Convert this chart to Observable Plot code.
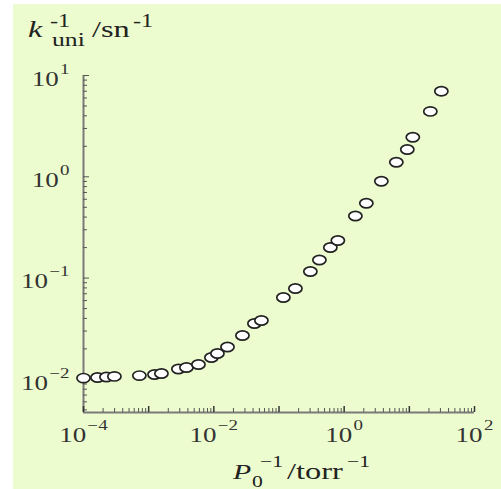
<!DOCTYPE html>
<html>
<head>
<meta charset="utf-8">
<script src="https://cdn.jsdelivr.net/npm/d3@7"></script>
<script src="https://cdn.jsdelivr.net/npm/@observablehq/plot@0.6"></script>
<style>
  html, body { margin: 0; padding: 0; background: #ffffff; }
  #wrap { position: relative; width: 501px; height: 489px; overflow: hidden; }
  #panel { position: absolute; left: 13px; top: 4px; right: 0; bottom: 0; background: #ecfcce; }
  #wrap svg { position: absolute; left: 0; top: 0; }
</style>
</head>
<body>
<div id="wrap"><div id="panel"></div></div>
<script>
// Inverse pressure P0^-1 (torr^-1) and inverse unimolecular rate constant k_uni^-1 (s)
const invPressure = [
  1.0e-4, 1.64e-4, 2.25e-4, 2.98e-4, 7.2e-4, 1.23e-3, 1.57e-3, 2.86e-3, 3.80e-3, 5.81e-3,
  9.18e-3, 1.135e-2, 1.62e-2, 2.75e-2, 4.20e-2, 5.37e-2, 0.1167, 0.1786, 0.303, 0.417,
  0.614, 0.80, 1.486, 2.19, 3.72, 6.32, 9.31, 11.3, 21.0, 31.0
];
const invRate = [
  0.0103, 0.01045, 0.01057, 0.0107, 0.0109, 0.01116, 0.01143, 0.01268, 0.0131, 0.01403,
  0.01644, 0.01803, 0.0209, 0.0271, 0.0356, 0.0381, 0.0643, 0.0789, 0.116, 0.151,
  0.2004, 0.235, 0.410, 0.548, 0.905, 1.393, 1.86, 2.46, 4.42, 7.0
];

// Axis extents and tick values
const xDomain = [1e-4, 1e2];
const yDomain = [Math.pow(10, -2.327), 10];
const xMajor = [1e-4, 1e-3, 1e-2, 1e-1, 1, 1e1, 1e2];
const xLabeled = [1e-4, 1e-2, 1, 1e2];
const yMajor = [1e-2, 1e-1, 1, 10];
const xMinor = [];
for (const d of [1e-4, 1e-3, 1e-2, 1e-1, 1, 10]) for (let m = 2; m <= 9; m++) xMinor.push(d * m);
const yMinor = [];
for (const d of [1e-3, 1e-2, 1e-1, 1]) for (let m = 2; m <= 9; m++) {
  const v = d * m;
  if (v >= yDomain[0] && v <= yDomain[1]) yMinor.push(v);
}

const data = invPressure.map((x, i) => ({x, y: invRate[i]}));

// Open elliptical marker
const ellipse = {
  draw(context) {
    const rx = 6.6, ry = 4.6, k = 0.5523, kx = rx * k, ky = ry * k;
    context.moveTo(rx, 0);
    context.bezierCurveTo(rx, ky, kx, ry, 0, ry);
    context.bezierCurveTo(-kx, ry, -rx, ky, -rx, 0);
    context.bezierCurveTo(-rx, -ky, -kx, -ry, 0, -ry);
    context.bezierCurveTo(kx, -ry, rx, -ky, rx, 0);
    context.closePath();
  }
};

const powerFormat = v => {
  const e = Math.round(Math.log10(v));
  return "10|" + (e < 0 ? "\u2212" + (-e) : String(e));
};
const blank = () => "";

const serif = "'Liberation Serif', 'Times New Roman', serif";
const axisColor = "#7a7a7a";
const tickColor = "#555555";

const plot = Plot.plot({
  width: 501,
  height: 489,
  marginLeft: 83,
  marginRight: 27,
  marginTop: 75,
  marginBottom: 77,
  style: {background: "transparent", fontFamily: serif, fontSize: "20px", color: "#333"},
  x: {type: "log", domain: xDomain},
  y: {type: "log", domain: yDomain},
  marks: [
    Plot.ruleX([xDomain[0]], {stroke: axisColor, strokeWidth: 2}),
    Plot.ruleY([yDomain[0]], {stroke: axisColor, strokeWidth: 2}),
    Plot.axisY({ticks: yMinor, tickSize: 4, dx: 4, tickFormat: blank, label: null, stroke: tickColor}),
    Plot.axisY({ticks: yMajor, tickSize: 6, dx: 6, tickFormat: blank, label: null, stroke: tickColor}),
    Plot.axisY({ticks: yMajor, tickSize: 0, tickPadding: 14, dy: 4, tickFormat: powerFormat, label: null, fill: "#333"}),
    Plot.axisX({ticks: xMinor, tickSize: 4, dy: -4, tickFormat: blank, label: null, stroke: tickColor}),
    Plot.axisX({ticks: xMajor, tickSize: 6, dy: -6, tickFormat: blank, label: null, stroke: "#333", strokeWidth: 1.5}),
    Plot.axisX({ticks: xLabeled, tickSize: 0, tickPadding: 15, tickFormat: powerFormat, label: null, fill: "#333"}),
    Plot.dot(data, {x: "x", y: "y", symbol: ellipse, stroke: "#222", strokeWidth: 1.7, fill: "white"})
  ]
});

document.getElementById("wrap").appendChild(plot);

const stretch = 1.35;
const svg = d3.select(plot);

// Tick labels as powers of ten with raised exponents
svg.selectAll("text").each(function () {
  const el = d3.select(this);
  const s = el.text();
  if (!s.includes("|")) return;
  const [base, exp] = s.split("|");
  el.text(null);
  el.append("tspan").text(base);
  el.append("tspan").attr("dy", -12).attr("dx", 1).attr("font-size", "14px").text(exp);
  const tr = el.attr("transform") || "";
  el.attr("transform", tr + ` scale(${stretch},1)`);
});

// Rich text helper: each piece is its own left-anchored, horizontally stretched text
function richText(x, y, pieces) {
  const g = svg.append("g")
    .attr("font-family", serif)
    .attr("fill", "#222")
    .attr("text-anchor", "start");
  for (const p of pieces) {
    g.append("text")
      .attr("transform", `translate(${x + p.dx},${y + p.dy}) scale(${stretch},1)`)
      .attr("font-size", p.size + "px")
      .attr("font-style", p.italic ? "italic" : null)
      .text(p.text);
  }
}

// Vertical axis title: k_uni^-1 / s^-1
richText(28, 37, [
  {text: "k", dx: 0, dy: 0, size: 24, italic: true},
  {text: "-1", dx: 22, dy: -10, size: 18},
  {text: "uni", dx: 24, dy: 9, size: 19},
  {text: "/sn", dx: 64, dy: 0, size: 24},
  {text: "-1", dx: 105, dy: -10, size: 18}
]);

// Horizontal axis title: P_0^-1 / torr^-1
richText(233, 479, [
  {text: "P", dx: 0, dy: 0, size: 22, italic: true},
  {text: "0", dx: 19, dy: 8, size: 16},
  {text: "\u22121", dx: 27, dy: -12, size: 16},
  {text: "/torr", dx: 54, dy: 0, size: 24},
  {text: "\u22121", dx: 114, dy: -12, size: 16}
]);
</script>
</body>
</html>
